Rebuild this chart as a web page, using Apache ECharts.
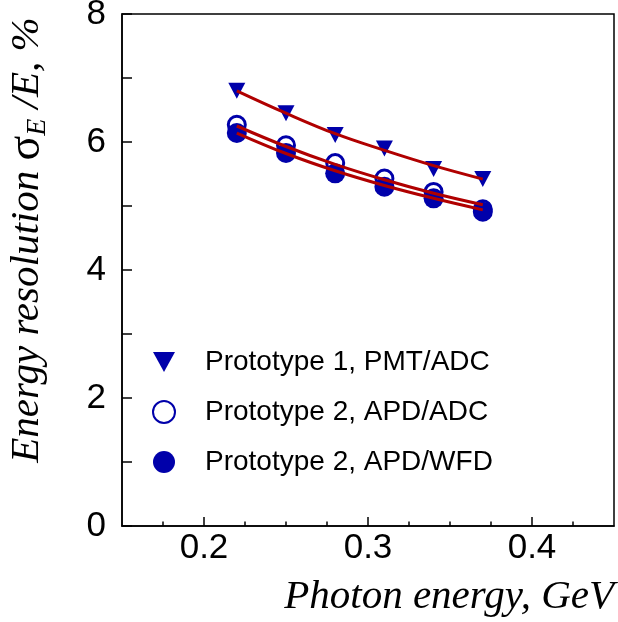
<!DOCTYPE html>
<html>
<head>
<meta charset="utf-8">
<script src="https://cdn.jsdelivr.net/npm/echarts@6/dist/echarts.min.js"></script>
<style>html,body{margin:0;padding:0;background:#fff}#c{width:618px;height:622px}</style>
</head>
<body>
<div id="c"></div>
<script>
// Photon energy (GeV)
const energies = [0.22, 0.25, 0.28, 0.31, 0.34, 0.37];
// Measured resolution (%)
const p1PmtAdc = [6.80, 6.45, 6.11, 5.90, 5.58, 5.42];
const p2ApdAdc = [6.27, 5.95, 5.67, 5.43, 5.22, 4.95];
const p2ApdWfd = [6.14, 5.83, 5.51, 5.30, 5.12, 4.91];
// Fit curves (%)
const fit1 = [6.80, 6.45, 6.13, 5.87, 5.63, 5.42];
const fit2 = [6.25, 5.93, 5.65, 5.41, 5.20, 5.02];
const fit3 = [6.14, 5.82, 5.55, 5.32, 5.12, 4.94];
// Tick values
const xMajorTicks = [0.2, 0.3, 0.4];
const xMinorTicks = [0.175, 0.225, 0.25, 0.275, 0.325, 0.35, 0.375, 0.425];
const seriesNames = ['Prototype 1, PMT/ADC', 'Prototype 2, APD/ADC', 'Prototype 2, APD/WFD'];

const pairs = (xs, ys) => xs.map((x, i) => [x, ys[i]]);
const blue = '#0000AA';
const red = '#B00000';
const invTri = 'path://M0,0L20,0L10,18Z';

const chart = echarts.init(document.getElementById('c'), null, {renderer: 'canvas'});
chart.setOption({
  animation: false,
  backgroundColor: '#fff',
  grid: {left: 122, right: 4, top: 14, bottom: 96, outerBoundsMode: 'none', containLabel: false, show: true, borderColor: '#000', borderWidth: 1.5, backgroundColor: 'transparent'},
  legend: {
    data: [
      {name: seriesNames[0], icon: invTri},
      {name: seriesNames[1]},
      {name: seriesNames[2]}
    ],
    orient: 'vertical',
    left: 152, top: 348, padding: 0,
    itemWidth: 22, itemHeight: 22,
    itemGap: 22,
    textStyle: {fontFamily: 'Liberation Sans', fontSize: 28, color: '#000', padding: [0, 0, 0, 25]}
  },
  xAxis: [{
    type: 'value', min: 0.15, max: 0.45,
    axisLine: {show: true, lineStyle: {color: '#000', width: 1.5}},
    axisTick: {show: true, inside: true, length: 9, customValues: xMajorTicks, lineStyle: {color: '#000', width: 1.5}},
    axisLabel: {show: true, customValues: xMajorTicks, margin: 5, fontFamily: 'Liberation Sans', fontSize: 35, color: '#000'},
    splitLine: {show: false},
    name: 'Photon energy, GeV',
    nameLocation: 'end', nameGap: 0,
    nameTextStyle: {fontFamily: 'Liberation Serif', fontStyle: 'italic', fontSize: 41, color: '#000', align: 'right', verticalAlign: 'top', padding: [51, 0, 0, 0]}
  }, {
    type: 'value', min: 0.15, max: 0.45, position: 'bottom',
    axisLine: {show: false},
    axisTick: {show: true, inside: true, length: 4.5, customValues: xMinorTicks, lineStyle: {color: '#000', width: 1.5}},
    axisLabel: {show: false},
    splitLine: {show: false}
  }],
  yAxis: {
    type: 'value', min: 0, max: 8, interval: 2,
    axisLine: {show: true, lineStyle: {color: '#000', width: 1.5}},
    axisTick: {show: true, inside: true, length: 10, lineStyle: {color: '#000', width: 1.5}},
    minorTick: {show: true, splitNumber: 2, length: 10, lineStyle: {color: '#000', width: 1.5}},
    axisLabel: {margin: 16, fontFamily: 'Liberation Sans', fontSize: 35, color: '#000'},
    splitLine: {show: false},
    name: '{a|Energy resolution }{s|σ}{sub|E}{a| /E, %}',
    nameLocation: 'middle', nameGap: 70,
    nameTextStyle: {
      padding: [0, 0, 0, 60],
      rich: {
        a: {fontFamily: 'Liberation Serif', fontStyle: 'italic', fontSize: 41, color: '#000', lineHeight: 50, verticalAlign: 'middle'},
        s: {fontFamily: 'Liberation Serif', fontSize: 46, color: '#000', lineHeight: 50, verticalAlign: 'middle'},
        sub: {fontFamily: 'Liberation Serif', fontStyle: 'italic', fontSize: 28, color: '#000', lineHeight: 22, verticalAlign: 'bottom'}
      }
    }
  },
  series: [
    {name: seriesNames[0], type: 'scatter', data: pairs(energies, p1PmtAdc), symbol: invTri, symbolSize: [17, 16], itemStyle: {color: blue, opacity: 1}, z: 2},
    {name: seriesNames[1], type: 'scatter', data: pairs(energies, p2ApdAdc), symbol: 'circle', symbolSize: 17, itemStyle: {color: 'rgba(0,0,0,0)', borderColor: blue, borderWidth: 3, opacity: 1}, z: 2},
    {name: seriesNames[2], type: 'scatter', data: pairs(energies, p2ApdWfd), symbol: 'circle', symbolSize: 20, itemStyle: {color: blue, opacity: 1}, z: 3},
    {name: 'fit1', type: 'line', data: pairs(energies, fit1), smooth: 0.4, showSymbol: false, symbol: 'none', lineStyle: {color: red, width: 3}, z: 5},
    {name: 'fit2', type: 'line', data: pairs(energies, fit2), smooth: 0.4, showSymbol: false, symbol: 'none', lineStyle: {color: red, width: 3}, z: 5},
    {name: 'fit3', type: 'line', data: pairs(energies, fit3), smooth: 0.4, showSymbol: false, symbol: 'none', lineStyle: {color: red, width: 3}, z: 5}
  ]
});
</script>
</body>
</html>
